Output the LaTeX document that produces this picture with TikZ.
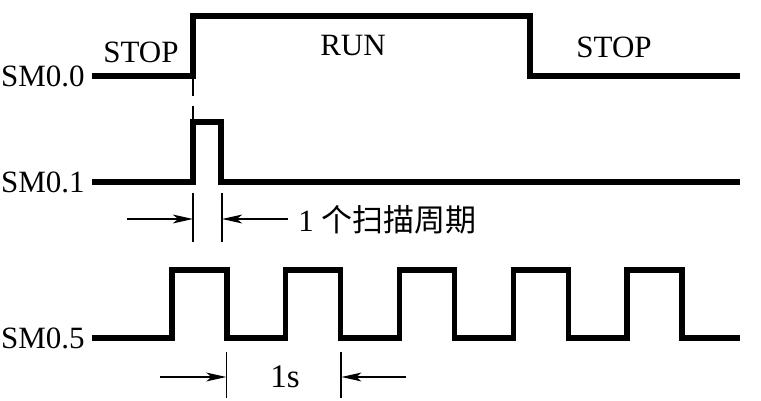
\documentclass[tikz,border=0pt]{standalone}
\usepackage{fontspec}
\setmainfont{Liberation Serif}
\newfontfamily\cjk{Noto Sans CJK SC}
\usetikzlibrary{arrows.meta,positioning}

\tikzset{
  signal/.style={line width=2.6pt,line join=miter},
  dim/.style={line width=0.9pt},
  siglabel/.style={anchor=east,inner xsep=3.5pt,font=\fontsize{15.5}{18}\selectfont},
  mode/.style={font=\fontsize{15.5}{18}\selectfont},
}

\begin{document}
\begin{tikzpicture}[x=0.5pt,y=-0.5pt,>={Stealth[length=10pt,width=4.4pt,inset=2.5pt]}]
  \useasboundingbox (0,0) rectangle (761,401);
  % signal names
  \node[siglabel] (sm00) at (92,76) {SM0.0};
  \node[siglabel] (sm01) at (92,182) {SM0.1};
  \node[siglabel] (sm05) at (92,338) {SM0.5};
  % operating modes
  \node[mode] (stopl) at (141,52) {STOP};
  \node[mode] (run) at (353,46) {RUN};
  \node[mode] (stopr) at (614,47) {STOP};
  % waveforms
  \coordinate (r0) at (193,76);
  \coordinate (p0) at (193,122);
  \draw[signal] (sm00.east) -- (r0) -- (193,16) -- (530,16) -- (530,76) -- (740,76);
  \draw[signal] (sm01.east) -- (193,182) -- (p0) -- (221,122) -- (221,182) -- (740,182);
  \draw[signal] (sm05.east)
    foreach \i in {0,...,4} {
      -- ({172+113.75*\i},338) -- ++(0,-68) -- ++(55,0) -- ++(0,68) coordinate (f\i)
    } -- (740,338);
  % scan cycle
  \draw[dim,dash pattern=on 10pt off 5pt] (r0) -- (p0);
  \coordinate (s0) at (193,219);
  \coordinate (s1) at (222,219);
  \draw[dim] (s0) ++(0,-26) -- ++(0,49);
  \draw[dim] (s1) ++(0,-26) -- ++(0,49);
  \draw[dim,<-] (s0) -- ++(-66,0);
  \draw[dim,<-] (s1) -- ++(66,0);
  \node[anchor=west,inner sep=0pt,font=\fontsize{15.5}{18}\selectfont] (scan) at (298,220) {1 {\cjk 个扫描周期}};
  % one second
  \coordinate (t0) at ([xshift=-0.3pt]f0 |- 0,377);
  \coordinate (t1) at ([xshift=0.3pt]f1 |- 0,377);
  \draw[dim] (t0) ++(0,-25) -- ++(0,46);
  \draw[dim] (t1) ++(0,-25) -- ++(0,46);
  \draw[dim,<-] (t0) -- ++(-66,0);
  \draw[dim,<-] (t1) -- ++(65,0);
  \node[font=\fontsize{16.5}{18}\selectfont] (onesec) at (285,377) {1s};
\end{tikzpicture}
\end{document}
